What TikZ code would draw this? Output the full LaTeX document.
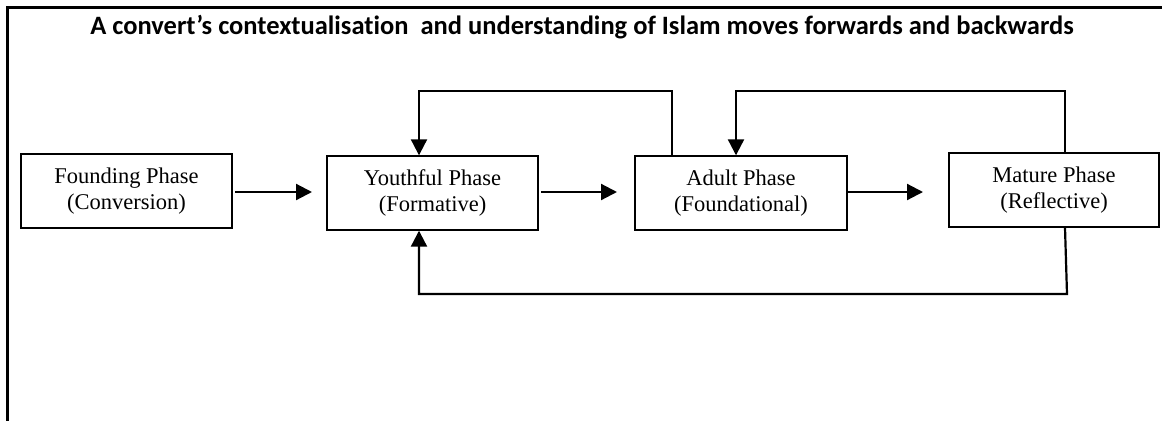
\documentclass[tikz,border=0pt]{standalone}
\usepackage{fontspec}
\setmainfont{Liberation Serif}
\newfontfamily\titlefont[Ligatures=NoCommon]{Carlito}
\usetikzlibrary{arrows.meta}
\begin{document}
\begin{tikzpicture}[x=1pt,y=-1pt,
  phasebox/.style={draw,line width=1.4pt,minimum width=211pt,minimum height=74pt,
    align=center,inner sep=0pt,font=\fontsize{22.5}{26}\selectfont},
  conn/.style={line width=2.2pt},
  arr/.style={conn,-{Triangle[length=16pt,width=16pt]}},
  frame/.style={line width=3pt}]
\useasboundingbox (0,0) rectangle (1162,421);
% frame (top and left edges)
\coordinate (ftr) at (1162,7);
\coordinate (ftl) at (7,7);
\coordinate (fbl) at (7,421);
\draw[frame] (ftr) -- (ftl) -- (fbl);
% title
\node[font=\titlefont\bfseries\fontsize{26.5}{30}\selectfont,anchor=base] (title) at (582,34)
  {A convert’s contextualisation\ \ and understanding of Islam moves forwards and backwards};
% boxes
\node[phasebox] (found) at (126.5,191) {Founding Phase\\(Conversion)};
\node[phasebox] (youth) at (432.5,193) {Youthful Phase\\(Formative)};
\node[phasebox,minimum width=212pt] (adult) at (741,193) {Adult Phase\\(Foundational)};
\node[phasebox,minimum width=210pt,minimum height=74pt] (mature) at (1054,190) {Mature Phase\\(Reflective)};
% forward arrows
\coordinate (a1s) at (235,192); \coordinate (a1e) at (312,192);
\coordinate (a2s) at (541,192); \coordinate (a2e) at (617,192);
\coordinate (a3s) at (848,192); \coordinate (a3e) at (923,192);
\draw[arr] (a1s) -- (a1e);
\draw[arr] (a2s) -- (a2e);
\draw[arr] (a3s) -- (a3e);
% backward loops
\coordinate (l1r) at (672,91);
\coordinate (l1l) at (419,91);
\draw[arr] (adult.north -| l1r) -- (l1r) -- (l1l) -- (youth.north -| l1l);
\coordinate (l2r) at (1065,91);
\coordinate (l2l) at (736,91);
\draw[arr] (mature.north -| l2r) -- (l2r) -- (l2l) -- (adult.north -| l2l);
\coordinate (l3r) at (1067,294);
\coordinate (l3l) at (419,294);
\draw[arr] (mature.south -| l2r) -- (l3r) -- (l3l) -- (youth.south -| l3l);
\end{tikzpicture}
\end{document}
